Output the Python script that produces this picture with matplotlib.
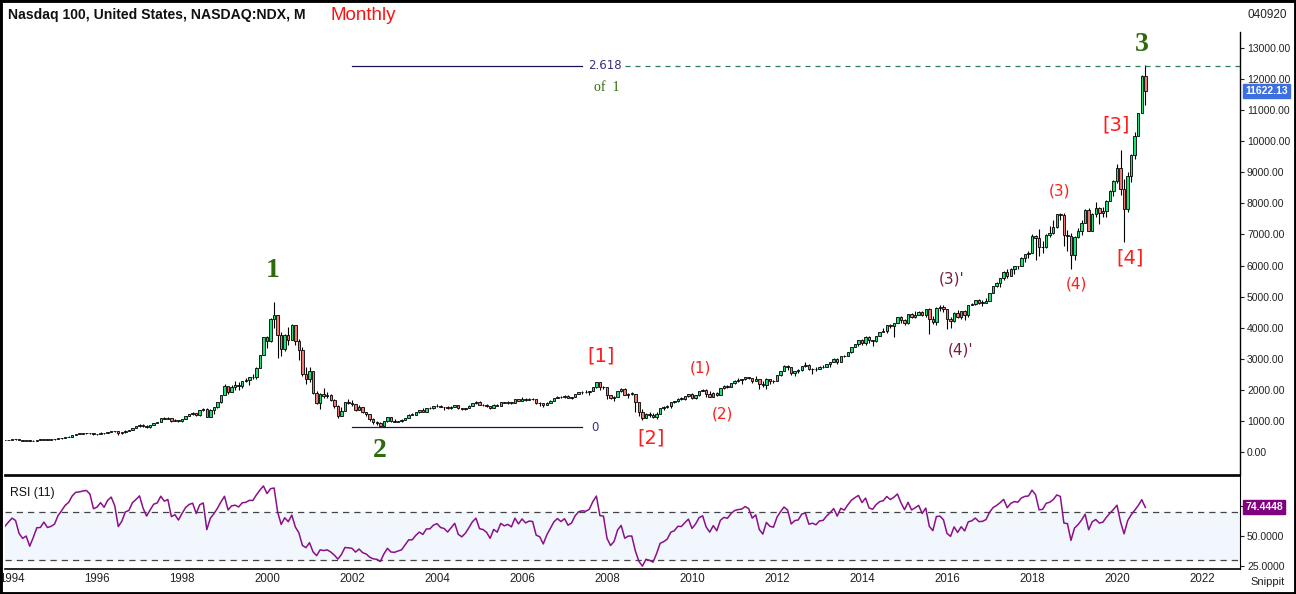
import numpy as np
import pandas as pd
import matplotlib
matplotlib.use("Agg")
import matplotlib.pyplot as plt
from matplotlib.patches import Rectangle

# ---------------- data (monthly NDX, from 1992-01) ----------------
start_month = "1992-01"
first_open = 331
close = [
    358, 355, 331, 322, 327, 307, 318, 309, 318, 333, 355, 361,            # 1992
    363, 346, 356, 331, 356, 362, 352, 375, 386, 396, 386, 398,            # 1993
    410, 406, 381, 370, 375, 350, 369, 395, 396, 412, 401, 404,            # 1994
    410, 436, 455, 480, 497, 546, 586, 591, 602, 609, 603, 576,            # 1995
    585, 612, 603, 650, 680, 661, 600, 628, 691, 703, 780, 821,            # 1996
    880, 832, 797, 860, 938, 957, 1089, 1064, 1096, 1000, 1024, 991,       # 1997
    1071, 1162, 1220, 1245, 1182, 1338, 1380, 1141, 1345, 1450, 1599, 1836,  # 1998
    2128, 1932, 2106, 2140, 2115, 2296, 2316, 2408, 2407, 2703, 3113, 3708,  # 1999
    3570, 4267, 4398, 3774, 3324, 3763, 3610, 4077, 3570, 3283, 2506, 2342,  # 2000
    2594, 1909, 1573, 1855, 1800, 1830, 1683, 1470, 1169, 1330, 1596, 1577,  # 2001
    1550, 1360, 1452, 1277, 1208, 1051, 962, 943, 832, 990, 1116, 984,       # 2002
    972, 997, 1018, 1106, 1200, 1201, 1280, 1341, 1303, 1400, 1403, 1468,    # 2003
    1494, 1450, 1438, 1400, 1456, 1517, 1400, 1370, 1412, 1480, 1565, 1621,  # 2004
    1519, 1510, 1482, 1420, 1520, 1493, 1605, 1582, 1601, 1580, 1692, 1645,  # 2005
    1712, 1680, 1703, 1700, 1590, 1575, 1505, 1585, 1655, 1735, 1780, 1757,  # 2006
    1793, 1745, 1770, 1860, 1920, 1935, 1932, 1960, 2092, 2238, 2090, 2085,  # 2007
    1842, 1730, 1781, 1951, 2031, 1838, 1872, 1873, 1602, 1302, 1109, 1212,  # 2008
    1176, 1115, 1236, 1405, 1435, 1478, 1605, 1632, 1719, 1716, 1790, 1860,  # 2009
    1742, 1823, 1957, 2000, 1858, 1784, 1903, 1830, 2044, 2117, 2106, 2218,  # 2010
    2300, 2330, 2340, 2408, 2390, 2300, 2362, 2200, 2140, 2340, 2290, 2278,  # 2011
    2474, 2616, 2755, 2720, 2540, 2615, 2632, 2772, 2800, 2660, 2680, 2661,  # 2012
    2731, 2739, 2819, 2887, 2981, 2910, 3091, 3073, 3218, 3378, 3488, 3592,  # 2013
    3520, 3709, 3596, 3580, 3736, 3850, 3889, 4083, 4050, 4158, 4335, 4236,  # 2014
    4151, 4440, 4333, 4415, 4508, 4397, 4589, 4275, 4181, 4648, 4665, 4593,  # 2015
    4279, 4201, 4484, 4341, 4523, 4418, 4731, 4771, 4875, 4801, 4810, 4864,  # 2016
    5117, 5330, 5436, 5584, 5788, 5647, 5880, 5989, 5979, 6248, 6365, 6396,  # 2017
    6949, 6871, 6581, 6605, 6967, 7040, 7232, 7657, 7628, 6968, 6949, 6330,  # 2018
    6906, 7097, 7378, 7781, 7127, 7671, 7849, 7692, 7750, 8084, 8403, 8733,  # 2019
    9151, 8462, 7813, 8890, 9555, 10157, 10905, 12111, 11622,              # 2020
]
high = [
    365, 362, 357, 335, 333, 329, 320, 320, 322, 336, 358, 365,
    372, 368, 360, 358, 358, 366, 366, 376, 388, 400, 400, 400,
    414, 418, 410, 384, 378, 378, 371, 397, 404, 416, 415, 408,
    415, 438, 458, 482, 502, 548, 590, 595, 612, 618, 620, 614,
    590, 628, 622, 652, 690, 688, 664, 632, 694, 712, 785, 830,
    895, 885, 860, 862, 945, 965, 1092, 1125, 1119, 1107, 1050, 1042,
    1075, 1165, 1225, 1275, 1250, 1342, 1420, 1400, 1375, 1456, 1606, 1850,
    2180, 2135, 2160, 2280, 2240, 2300, 2390, 2420, 2520, 2720, 3120, 3710,
    3730, 4300, 4816, 4420, 3850, 3790, 4010, 4120, 4100, 3650, 3390, 2720,
    2720, 2590, 1960, 1890, 2050, 1930, 1880, 1690, 1500, 1440, 1620, 1720,
    1675, 1560, 1500, 1450, 1290, 1220, 1080, 1000, 970, 1010, 1130, 1120,
    1050, 1010, 1070, 1110, 1215, 1255, 1300, 1345, 1410, 1430, 1440, 1470,
    1560, 1500, 1460, 1480, 1470, 1520, 1515, 1410, 1425, 1500, 1570, 1625,
    1625, 1550, 1530, 1490, 1550, 1560, 1620, 1615, 1625, 1610, 1700, 1720,
    1760, 1730, 1730, 1740, 1710, 1600, 1580, 1595, 1670, 1740, 1800, 1790,
    1820, 1820, 1780, 1870, 1930, 1955, 2000, 1975, 2100, 2240, 2250, 2135,
    2100, 1850, 1790, 1970, 2050, 2050, 1890, 1930, 1880, 1610, 1370, 1250,
    1280, 1240, 1280, 1410, 1480, 1520, 1610, 1650, 1740, 1770, 1800, 1880,
    1890, 1830, 1960, 2040, 2030, 1970, 1920, 1930, 2050, 2140, 2160, 2220,
    2310, 2370, 2345, 2410, 2420, 2390, 2440, 2360, 2290, 2380, 2360, 2330,
    2480, 2618, 2785, 2790, 2720, 2620, 2660, 2780, 2880, 2820, 2690, 2740,
    2760, 2790, 2830, 2900, 3020, 3040, 3095, 3120, 3225, 3380, 3490, 3595,
    3630, 3720, 3740, 3600, 3740, 3860, 3990, 4090, 4130, 4160, 4340, 4370,
    4270, 4440, 4480, 4540, 4550, 4530, 4600, 4620, 4360, 4660, 4720, 4720,
    4590, 4330, 4500, 4560, 4530, 4580, 4740, 4800, 4890, 4910, 4900, 4960,
    5130, 5340, 5460, 5600, 5830, 5900, 5930, 6000, 6000, 6260, 6380, 6480,
    7020, 6990, 7190, 6800, 7000, 7270, 7460, 7660, 7700, 7700, 7150, 7060,
    6940, 7220, 7480, 7810, 7850, 7690, 8030, 7880, 7890, 8100, 8420, 8740,
    9260, 9720, 8780, 9000, 9600, 10300, 10910, 12120, 12440,
]
low = [
    330, 345, 326, 308, 316, 300, 302, 302, 304, 312, 330, 348,
    352, 332, 340, 325, 328, 348, 345, 350, 370, 382, 378, 383,
    395, 398, 372, 352, 358, 346, 345, 366, 388, 392, 396, 390,
    395, 410, 434, 450, 478, 496, 545, 570, 584, 580, 590, 556,
    548, 580, 582, 600, 645, 640, 560, 592, 620, 680, 702, 776,
    815, 805, 780, 770, 858, 920, 950, 1050, 1060, 980, 990, 960,
    965, 1066, 1145, 1200, 1150, 1172, 1330, 1120, 1130, 1230, 1430, 1565,
    1830, 1880, 1920, 2000, 1980, 2050, 2250, 2170, 2350, 2360, 2690, 3110,
    3340, 3530, 3980, 3040, 3090, 3250, 3450, 3600, 3450, 2950, 2460, 2180,
    2250, 1860, 1560, 1380, 1740, 1740, 1640, 1420, 1110, 1150, 1330, 1550,
    1490, 1315, 1350, 1260, 1150, 1000, 900, 880, 825, 795, 960, 970,
    960, 956, 960, 1015, 1100, 1180, 1200, 1270, 1300, 1305, 1370, 1390,
    1450, 1435, 1350, 1395, 1370, 1440, 1380, 1340, 1350, 1400, 1475, 1550,
    1510, 1480, 1460, 1390, 1410, 1490, 1490, 1570, 1560, 1530, 1575, 1640,
    1640, 1650, 1660, 1685, 1560, 1495, 1445, 1500, 1570, 1650, 1730, 1740,
    1750, 1730, 1710, 1770, 1860, 1880, 1900, 1820, 1950, 2070, 1990, 2040,
    1720, 1720, 1650, 1780, 1940, 1830, 1750, 1840, 1300, 1150, 1040, 1100,
    1140, 1080, 1050, 1220, 1360, 1420, 1420, 1570, 1600, 1670, 1680, 1780,
    1710, 1700, 1800, 1950, 1780, 1760, 1770, 1800, 1830, 2040, 2050, 2120,
    2200, 2260, 2200, 2330, 2350, 2220, 2290, 2030, 2080, 2030, 2180, 2210,
    2270, 2460, 2600, 2640, 2490, 2450, 2530, 2610, 2730, 2640, 2500, 2600,
    2690, 2700, 2740, 2740, 2880, 2820, 2910, 3050, 3080, 3180, 3370, 3400,
    3450, 3440, 3520, 3400, 3530, 3730, 3850, 3840, 3980, 3700, 4150, 4150,
    4090, 4130, 4320, 4320, 4400, 4380, 4350, 3790, 4130, 4100, 4550, 4500,
    3950, 3990, 4180, 4300, 4270, 4260, 4340, 4720, 4730, 4750, 4690, 4780,
    4880, 5110, 5300, 5320, 5530, 5600, 5650, 5730, 5900, 5990, 6110, 6240,
    6400, 6170, 6310, 6390, 6550, 6910, 7000, 7200, 7480, 6630, 6470, 5900,
    6190, 6880, 6980, 7400, 7100, 7110, 7560, 7340, 7550, 7550, 8070, 8250,
    8640, 8260, 6770, 7720, 8700, 9440, 10340, 10960, 11150,
]
rsi_period = 11
last_price_text = "11622.13"
last_rsi_text = "74.4448"
fib_top_value = 12430
fib_zero_value = 795
price_ticks = list(range(0, 14000, 1000))
rsi_ticks = [25, 50, 75]
year_ticks = list(range(1994, 2023, 2))

# ---------------- derived ----------------
close_a = np.array(close, float)
high_a = np.array(high, float)
low_a = np.array(low, float)
open_a = np.concatenate([[first_open], close_a[:-1]])
months = pd.period_range(start_month, periods=len(close_a), freq="M")
xs = np.asarray(months.year + (months.month - 1) / 12.0, float)

# Wilder RSI
delta = np.diff(close_a)
gain = np.where(delta > 0, delta, 0.0)
loss = np.where(delta < 0, -delta, 0.0)
rsi = np.full(len(close_a), np.nan)
ag = gain[:rsi_period].mean()
al = loss[:rsi_period].mean()
rsi[rsi_period] = 100 - 100 / (1 + ag / al)
for i in range(rsi_period, len(delta)):
    ag = (ag * (rsi_period - 1) + gain[i]) / rsi_period
    al = (al * (rsi_period - 1) + loss[i]) / rsi_period
    rsi[i + 1] = 100 - 100 / (1 + ag / al)

# ---------------- figure ----------------
W, H = 1296, 594
fig = plt.figure(figsize=(W / 100, H / 100), dpi=100)
plt.rcParams["font.family"] = ["Liberation Sans", "DejaVu Sans"]

def fx(px):
    return px / W

def fy(py):
    return 1 - py / H

ax = fig.add_axes([fx(5), fy(475), fx(1240) - fx(5), fy(32) - fy(475)])
ax2 = fig.add_axes([fx(5), fy(569), fx(1240) - fx(5), fy(476) - fy(569)], sharex=ax)

X0, X1 = 1993.835, 2022.894
ax.set_xlim(X0, X1)
ax.set_ylim(-740, 13514)

up_col = "#1de27a"
dn_col = "#f27a74"
bw = 0.058
vis = xs >= X0 - 0.1
for xi, o, h, l, c in zip(xs[vis], open_a[vis], high_a[vis], low_a[vis], close_a[vis]):
    ax.vlines(xi, l, h, color="black", lw=0.8, zorder=2)
    bot = min(o, c)
    hgt = max(abs(c - o), 12)
    ax.add_patch(Rectangle((xi - bw / 2, bot), bw, hgt,
                           facecolor=up_col if c >= o else dn_col,
                           edgecolor="black", lw=0.6, zorder=3))

for s in ["top", "left"]:
    ax.spines[s].set_visible(False)
ax.spines["right"].set_linewidth(1.0)
ax.spines["bottom"].set_linewidth(1.2)
ax.yaxis.tick_right()
ax.set_yticks(price_ticks)
ax.set_yticklabels([f"{v:.2f}" for v in price_ticks])
ax.tick_params(axis="y", labelsize=7.5, colors="#222222", length=3, pad=2)
ax.tick_params(axis="x", bottom=False, labelbottom=False)

# Fibonacci lines
navy = "#1c1458"
ax.plot([2002.0, 2007.41], [fib_top_value] * 2, color=navy, lw=0.9)
ax.plot([2002.0, 2007.41], [fib_zero_value] * 2, color=navy, lw=0.9)
ax.plot([2008.42, X1], [fib_top_value] * 2, color="#2a7a5a", lw=0.9, dashes=(4, 4))
ax.text(2007.55, fib_top_value, "2.618", color="#3a2f80", fontsize=8.5,
        family="DejaVu Sans", va="center", ha="left")
ax.text(2007.62, fib_zero_value, "0", color="#3a2f80", fontsize=8.5,
        family="DejaVu Sans", va="center", ha="left")
ax.text(2008.0, 11744, "of  1", color="#2e6b0e", fontsize=10,
        family="Liberation Serif", va="center", ha="center")

# wave labels
green = "#2e6b0e"
red = "#ff1c1c"
maroon = "#7a1a40"
waves = [
    ("1", 2000.14, 5856, green, 20, "serif"),
    ("2", 2002.66, 64, green, 20, "serif"),
    ("3", 2020.59, 13127, green, 20, "serif"),
    ("[1]", 2007.86, 3089, red, 14, "sans"),
    ("[2]", 2009.04, 450, red, 14, "sans"),
    ("[3]", 2019.98, 10521, red, 14, "sans"),
    ("[4]", 2020.31, 6242, red, 14, "sans"),
    ("(1)", 2010.21, 2703, red, 11, "sans"),
    ("(2)", 2010.71, 1223, red, 11, "sans"),
    ("(3)", 2018.64, 8398, red, 11, "sans"),
    ("(4)", 2019.04, 5405, red, 11, "sans"),
    ("(3)'", 2016.12, 5566, maroon, 11, "sans"),
    ("(4)'", 2016.31, 3282, maroon, 11, "sans"),
]
for t, wx, wy, col, fs, kind in waves:
    if kind == "serif":
        ax.text(wx, wy, t, color=col, fontsize=fs, fontweight="bold",
                family="Liberation Serif", ha="center", va="center")
    else:
        ax.text(wx, wy, t, color=col, fontsize=fs, family="DejaVu Sans",
                ha="center", va="center")

# last price label
ax.annotate(last_price_text, xy=(1.0, close_a[-1]), xycoords=("axes fraction", "data"),
            xytext=(4, 0), textcoords="offset points", va="center", ha="left",
            fontsize=7.5, fontweight="bold", color="white",
            bbox=dict(boxstyle="square,pad=0.2", fc="#3d6fe0", ec="#3d6fe0"),
            annotation_clip=False)

# ---------------- RSI panel ----------------
ax2.set_ylim(22.5, 100)
ax2.axhspan(30, 70, color="#f2f7fd", zorder=0)
ax2.axhline(70, color="#444444", lw=0.9, dashes=(5, 4))
ax2.axhline(30, color="#444444", lw=0.9, dashes=(5, 4))
ax2.plot(xs, rsi, color="#8a108a", lw=1.1)
ax2.spines["left"].set_visible(False)
ax2.spines["top"].set_linewidth(1.2)
ax2.spines["bottom"].set_linewidth(1.2)
ax2.yaxis.tick_right()
ax2.set_yticks(rsi_ticks)
ax2.set_yticklabels([f"{v:.4f}" for v in rsi_ticks])
ax2.tick_params(axis="y", labelsize=7.5, colors="#222222", length=3, pad=2)
ax2.set_xticks(year_ticks)
ax2.set_xticklabels([str(y) for y in year_ticks])
ax2.tick_params(axis="x", labelsize=8.3, colors="#222222", length=0, pad=3)
ax2.text(0.004, 0.82, "RSI (11)", transform=ax2.transAxes, fontsize=8.8,
         color="#111111", va="center", ha="left")
ax2.annotate(last_rsi_text, xy=(1.0, 74.4448), xycoords=("axes fraction", "data"),
             xytext=(4, 0), textcoords="offset points", va="center", ha="left",
             fontsize=7.5, fontweight="bold", color="white",
             bbox=dict(boxstyle="square,pad=0.2", fc="#800080", ec="#800080"),
             annotation_clip=False)

# ---------------- header / frame ----------------
fig.text(fx(8), fy(15), "Nasdaq 100, United States, NASDAQ:NDX, M", fontsize=10.1,
         fontweight="bold", color="#111111", va="center", ha="left")
fig.text(fx(330), fy(15), "Monthly", fontsize=13.5, color="#ff1010", va="center", ha="left")
fig.text(fx(1267), fy(15), "040920", fontsize=8.5, color="#222222", va="center", ha="center")
fig.text(fx(1268), fy(582), "Snippit", fontsize=8, color="#222222", va="center", ha="center")
fig.patches.append(Rectangle((0, 0), 1, 1, transform=fig.transFigure, fill=False,
                             ec="black", lw=3.5))

fig.savefig("out.png", dpi=100)
